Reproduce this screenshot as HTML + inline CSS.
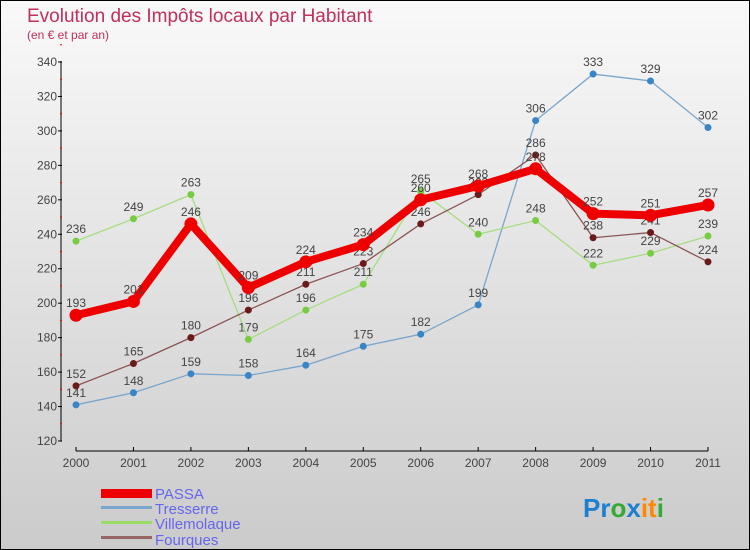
<!DOCTYPE html>
<html><head><meta charset="utf-8"><style>
body{margin:0}
#c{width:748px;height:548px;border:1px solid #000;background:linear-gradient(#f9f9f9,#cbcbcb);position:relative;font-family:"Liberation Sans",sans-serif;overflow:hidden}
</style></head><body>
<div id="c">
<svg id="s" width="748" height="548" xmlns="http://www.w3.org/2000/svg">
<text x="26" y="21" font-size="19" fill="#c0305a">Evolution des Impôts locaux par Habitant</text>
<text x="26" y="38" font-size="12" fill="#c0305a">(en € et par an)</text>
<g id="axes"></g><g id="series"></g>
<g font-size="15" fill="#6666ee">
<rect x="100" y="488" width="51" height="9" fill="#e00"/>
<text x="154" y="498">PASSA</text>
<rect x="100" y="505" width="51" height="3" fill="#7aa6cc"/>
<text x="154" y="513">Tresserre</text>
<rect x="100" y="520" width="51" height="3" fill="#99dd66"/>
<text x="154" y="528">Villemolaque</text>
<rect x="100" y="535" width="51" height="3" fill="#996666"/>
<text x="154" y="544">Fourques</text>
</g>
<text x="582" y="516" font-size="26" font-weight="bold"><tspan fill="#1e7fd0">Pr</tspan><tspan fill="#3a3">o</tspan><tspan fill="#1e7fd0">x</tspan><tspan fill="#f80">it</tspan><tspan fill="#3a3">i</tspan></text>
</svg></div>
<script>
const years=["2000","2001","2002","2003","2004","2005","2006","2007","2008","2009","2010","2011"];
const yTicks=[120,140,160,180,200,220,240,260,280,300,320,340];
const passa=[193,201,246,209,224,234,260,268,278,252,251,257];
const tresserre=[141,148,159,158,164,175,182,199,306,333,329,302];
const villemolaque=[236,249,263,179,196,211,265,240,248,222,229,239];
const fourques=[152,165,180,196,211,223,246,263,286,238,241,224];
const NS="http://www.w3.org/2000/svg";
const X=i=>75+i*(632/11);
const Y=v=>440-(v-120)*(379/220);
function mk(t,a,p){const e=document.createElementNS(NS,t);for(const k in a)e.setAttribute(k,a[k]);p.appendChild(e);return e;}
const ax=document.getElementById('axes');
let l=mk('line',{x1:60,y1:60,x2:60,y2:440,stroke:'#000'},ax);


l=mk('line',{x1:75,y1:450,x2:707,y2:450,stroke:'#000'},ax);


yTicks.forEach(v=>{mk('line',{x1:57,x2:61,y1:Y(v),y2:Y(v),stroke:'#000'},ax);
mk('line',{x1:59,x2:61,y1:Y(v+10),y2:Y(v+10),stroke:'#e00'},ax);
const t=mk('text',{x:56,y:Y(v)+4,'font-size':12,'text-anchor':'end',fill:'#444'},ax);t.textContent=v;

});
years.forEach((y,i)=>{mk('line',{x1:X(i),x2:X(i),y1:446,y2:450,stroke:'#000'},ax);
const t=mk('text',{x:X(i),y:466,'font-size':12,'text-anchor':'middle',fill:'#444'},ax);t.textContent=y;

});
const sg=document.getElementById('series');
function draw(name,d,col,dot,w,r){
const g=mk('g',{},sg);


mk('polyline',{points:d.map((v,i)=>X(i)+','+Y(v)).join(' '),fill:'none',stroke:col,'stroke-width':w,'stroke-linejoin':'round'},g);
d.forEach((v,i)=>{const c=mk('circle',{cx:X(i),cy:Y(v),r:r,fill:dot},g);


const t=mk('text',{x:X(i),y:Y(v)-8,'font-size':12,'text-anchor':'middle',fill:'#444'},g);t.textContent=v;

});}
draw('tresserre',tresserre,'#7aa6cc','#3a85c6',1.3,3.5);
draw('villemolaque',villemolaque,'#a6dd80','#77cc44',1.3,3.5);
draw('fourques',fourques,'#8b5555','#6b1a1a',1.3,3.5);
draw('passa',passa,'#ee0000','#ee0000',8,6.5);
</script>
</body></html>
